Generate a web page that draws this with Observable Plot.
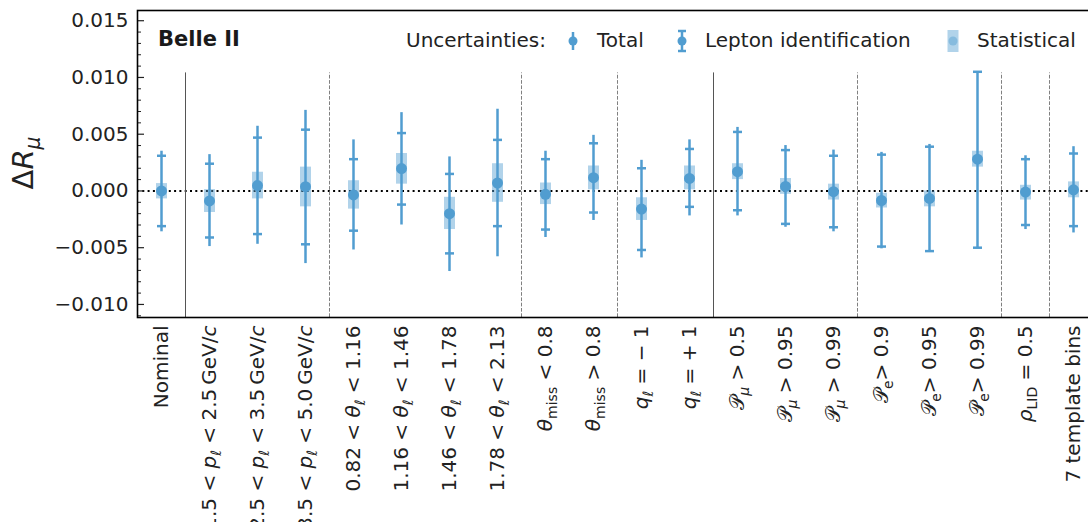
<!DOCTYPE html>
<html><head><meta charset="utf-8">
<script src="https://cdn.jsdelivr.net/npm/d3@7"></script>
<script src="https://cdn.jsdelivr.net/npm/@observablehq/plot@0.6"></script>
<style>html,body{margin:0;padding:0;background:#fff;overflow:hidden;width:1088px;height:522px}
#chart{width:1088px;height:522px;overflow:hidden}
#chart svg{max-width:none !important;width:1100px;height:522px}</style>
</head><body><div id="chart"></div>
<script>
// Category labels (mini markup: *italic*, _{subscript})
const categories = [
  "Nominal",
  "1.5 < *p*_{*ℓ*} < 2.5\u2009GeV/*c*",
  "2.5 < *p*_{*ℓ*} < 3.5\u2009GeV/*c*",
  "3.5 < *p*_{*ℓ*} < 5.0\u2009GeV/*c*",
  "0.82 < *θ*_{*ℓ*} < 1.16",
  "1.16 < *θ*_{*ℓ*} < 1.46",
  "1.46 < *θ*_{*ℓ*} < 1.78",
  "1.78 < *θ*_{*ℓ*} < 2.13",
  "*θ*_{miss} < 0.8",
  "*θ*_{miss} > 0.8",
  "*q*_{*ℓ*} = − 1",
  "*q*_{*ℓ*} = + 1",
  "𝒫_{*μ*} > 0.5",
  "𝒫_{*μ*} > 0.95",
  "𝒫_{*μ*} > 0.99",
  "𝒫_{e}> 0.9",
  "𝒫_{e}> 0.95",
  "𝒫_{e}> 0.99",
  "*ρ*_{LID} = 0.5",
  "7 template bins"
];
const central = [0, -0.00088, 0.00047, 0.00038, -0.00035, 0.00197, -0.0020, 0.0007, -0.0003, 0.00117,
  -0.0016, 0.0011, 0.0017, 0.0004, -0.00006, -0.00084, -0.00066, 0.0028, -0.0001, 0.0001];
const statLow  = [-0.0007, -0.0019, -0.0007, -0.0014, -0.0016, 0.0006, -0.0034, -0.0010, -0.0012, 0.0001,
  -0.0026, 0.0001, 0.0010, -0.0003, -0.0008, -0.0015, -0.0014, 0.0021, -0.0008, -0.0006];
const statHigh = [0.00065, 0.00012, 0.00165, 0.0021, 0.0009, 0.0033, -0.00056, 0.0024, 0.0007, 0.0022,
  -0.0006, 0.0022, 0.0024, 0.0011, 0.0006, -0.0002, 0.0, 0.0035, 0.0005, 0.0008];
const lidLow  = [-0.0031, -0.0041, -0.0038, -0.0047, -0.0035, -0.0012, -0.0055, -0.0031, -0.0034, -0.0019,
  -0.0052, -0.0014, -0.0017, -0.0029, -0.0032, -0.0049, -0.0053, -0.0050, -0.0030, -0.0031];
const lidHigh = [0.0031, 0.0024, 0.0047, 0.0054, 0.0028, 0.0051, 0.0015, 0.0045, 0.0028, 0.0042,
  0.0020, 0.0037, 0.0052, 0.0036, 0.0031, 0.0032, 0.0039, 0.0105, 0.0028, 0.0033];
const totLow  = [-0.0036, -0.0049, -0.0047, -0.0064, -0.0052, -0.0030, -0.0071, -0.0058, -0.0041, -0.0026,
  -0.0059, -0.0022, -0.0022, -0.0032, -0.0036, -0.0051, -0.0054, -0.0051, -0.0034, -0.0037];
const totHigh = [0.0035, 0.0032, 0.0057, 0.0071, 0.0045, 0.0069, 0.0030, 0.0072, 0.0035, 0.0049,
  0.0027, 0.0045, 0.0056, 0.0040, 0.0036, 0.0034, 0.0041, 0.0105, 0.0031, 0.0039];
const separatorsSolid = [0.5, 11.5];
const separatorsDashed = [3.5, 7.5, 9.5, 14.5, 17.5, 18.5];
const separatorTop = 0.0104;
const yTicksMajor = [-0.010, -0.005, 0.000, 0.005, 0.010, 0.015];
const yTicksMinor = [-0.011,-0.009,-0.008,-0.007,-0.006,-0.004,-0.003,-0.002,-0.001,0.001,0.002,0.003,0.004,0.006,0.007,0.008,0.009,0.011,0.012,0.013,0.014];
const yDomain = [-0.01115, 0.0159];

const BLUE = "#519dd0";
const rows = categories.map((c, i) => ({i, c: central[i], sLo: statLow[i], sHi: statHigh[i],
  lLo: lidLow[i], lHi: lidHigh[i], tLo: totLow[i], tHi: totHigh[i]}));
const plain = s => s.replace(/[*_{}]/g, "");
const fmtY = d => (d < 0 ? "−" : "") + Math.abs(d).toFixed(3);
const capSymbol = {draw(ctx, size) { const r = Math.sqrt(size / Math.PI); ctx.moveTo(-r, 0); ctx.lineTo(r, 0); }};

const plot = Plot.plot({
  width: 1100, height: 522,
  marginLeft: 137, marginRight: 3, marginTop: 10, marginBottom: 205,
  style: {fontFamily: "DejaVu Sans", fontSize: "20px", color: "#222", background: "white", overflow: "visible", maxWidth: "none"},
  x: {type: "linear", domain: [-0.5, 19.5]},
  y: {domain: yDomain},
  marks: [
    Plot.ruleY([0], {stroke: "black", strokeWidth: 2, strokeDasharray: "2,3.3"}),
    Plot.ruleX(separatorsSolid, {x: d => d, y1: yDomain[0], y2: separatorTop, stroke: "#555", strokeWidth: 1}),
    Plot.ruleX(separatorsDashed, {x: d => d, y1: yDomain[0], y2: separatorTop, stroke: "#808080", strokeWidth: 1, strokeDasharray: "3.7,1.6"}),
    Plot.ruleX(rows, {x: "i", y1: "sLo", y2: "sHi", stroke: BLUE, strokeOpacity: 0.45, strokeWidth: 11}),
    Plot.ruleX(rows, {x: "i", y1: "tLo", y2: "tHi", stroke: BLUE, strokeWidth: 2.5}),
    Plot.dot(rows, {x: "i", y: "lLo", symbol: capSymbol, r: 4.5, fill: "none", stroke: BLUE, strokeWidth: 2.5}),
    Plot.dot(rows, {x: "i", y: "lHi", symbol: capSymbol, r: 4.5, fill: "none", stroke: BLUE, strokeWidth: 2.5}),
    Plot.dot(rows, {x: "i", y: "c", r: 5.5, fill: BLUE}),
    Plot.axisY({ticks: yTicksMajor, tickSize: 0, tickPadding: 9, tickFormat: fmtY, fontSize: 20, label: null}),
    Plot.axisY({ticks: yTicksMajor, tickSize: 7, dx: 7, tickFormat: () => "", strokeWidth: 1.2, label: null}),
    Plot.axisY({ticks: yTicksMinor, tickSize: 4, dx: 4, tickFormat: () => "", strokeWidth: 1, label: null}),
    Plot.axisX({ticks: d3.range(categories.length), tickSize: 0, tickPadding: 8, tickRotate: -90,
      tickFormat: i => plain(categories[i]), fontSize: 20, label: null}),
    Plot.frame({stroke: "black", strokeWidth: 1.6})
  ]
});
document.getElementById("chart").appendChild(plot);

function parseMarkup(s) {
  const segs = []; let italic = false, sub = false, buf = "";
  const push = () => { if (buf) { segs.push({t: buf, italic, sub}); buf = ""; } };
  for (let j = 0; j < s.length;) {
    if (s.startsWith("_{", j)) { push(); sub = true; j += 2; continue; }
    const ch = s[j];
    if (ch === "}" && sub) { push(); sub = false; j++; continue; }
    if (ch === "*") { push(); italic = !italic; j++; continue; }
    buf += ch; j++;
  }
  push(); return segs;
}
function renderRich(sel, markup, shiftPx) {
  sel.text(null);
  let prevSub = false;
  for (const seg of parseMarkup(markup)) {
    const t = sel.append("tspan").text(seg.t);
    if (seg.italic) t.attr("font-style", "italic");
    if (seg.sub) t.attr("font-size", "0.7em");
    const shift = (seg.sub ? 1 : 0) - (prevSub ? 1 : 0);
    if (shift) t.attr("dy", shift * shiftPx);
    prevSub = seg.sub;
  }
}
const svg = d3.select(plot);
svg.selectAll('g[aria-label="x-axis tick label"] text').each(function(_, k) {
  renderRich(d3.select(this), categories[k], 5);
});

// y label
const yl = svg.append("text").attr("transform", "translate(33,163) rotate(-90)")
  .attr("text-anchor", "middle").attr("font-size", 29).attr("fill", "#222");
renderRich(yl, "Δ*R*_{*μ*}", 7);

// Belle II
svg.append("text").attr("x", 158).attr("y", 46).attr("text-anchor", "start").attr("font-weight", "bold").attr("font-size", 21)
  .attr("fill", "#1a1a1a").text("Belle II");

// legend
const lg = svg.append("g").attr("font-size", 20).attr("fill", "#222").attr("text-anchor", "start");
lg.append("text").attr("x", 406).attr("y", 47).text("Uncertainties:");
lg.append("line").attr("x1", 573).attr("x2", 573).attr("y1", 32).attr("y2", 50).attr("stroke", BLUE).attr("stroke-width", 2.5);
lg.append("circle").attr("cx", 573).attr("cy", 41).attr("r", 4.5).attr("fill", BLUE);
lg.append("text").attr("x", 597).attr("y", 47).text("Total");
lg.append("line").attr("x1", 682).attr("x2", 682).attr("y1", 31).attr("y2", 51).attr("stroke", BLUE).attr("stroke-width", 2.5);
lg.append("line").attr("x1", 678).attr("x2", 686).attr("y1", 31).attr("y2", 31).attr("stroke", BLUE).attr("stroke-width", 2.5);
lg.append("line").attr("x1", 678).attr("x2", 686).attr("y1", 51).attr("y2", 51).attr("stroke", BLUE).attr("stroke-width", 2.5);
lg.append("circle").attr("cx", 682).attr("cy", 41).attr("r", 4.5).attr("fill", BLUE);
lg.append("text").attr("x", 705).attr("y", 47).text("Lepton identification");
lg.append("rect").attr("x", 947.5).attr("y", 30).attr("width", 11).attr("height", 22).attr("fill", BLUE).attr("fill-opacity", 0.45);
lg.append("circle").attr("cx", 953).attr("cy", 41).attr("r", 4.5).attr("fill", BLUE).attr("fill-opacity", 0.45);
lg.append("text").attr("x", 977).attr("y", 47).text("Statistical");
</script>
</body></html>
